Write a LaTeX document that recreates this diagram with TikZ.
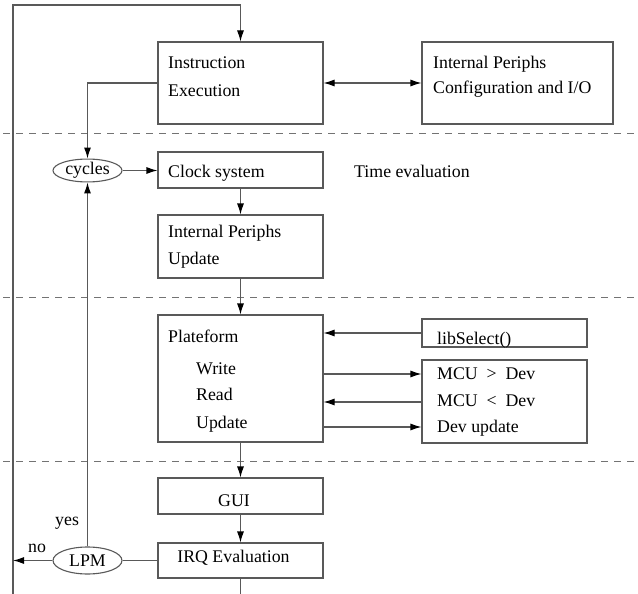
\documentclass[tikz,border=0pt]{standalone}
\usepackage{fontspec}
\setmainfont{Liberation Serif}
\usetikzlibrary{arrows.meta,shapes.geometric}
\begin{document}
\begin{tikzpicture}[x=1pt,y=-1pt,
  every node/.style={font=\fontsize{17.8}{20}\selectfont},
  block/.style={draw=black!65,line width=1.1pt,rectangle,inner sep=0pt},
  oval/.style={draw=black!65,line width=1.1pt,ellipse,inner sep=0pt,minimum width=69pt},
  txt/.style={anchor=base west,inner sep=0pt},
  ctxt/.style={anchor=base,inner sep=0pt},
  link/.style={draw=black!65,line width=1.1pt},
  tip/.style={Latex[length=11pt,width=7pt,color=black]},
  arr/.style={link,-{Latex[length=11pt,width=7pt,color=black]}},
  darr/.style={link,{Latex[length=11pt,width=7pt,color=black]}-{Latex[length=11pt,width=7pt,color=black]}},
  sep/.style={draw=black!55,line width=0.9pt,dash pattern=on 7pt off 6pt}]
\useasboundingbox (0,0) rectangle (638,594);

% section separators
\draw[sep] (3,133) -- (638,133);
\draw[sep] (3,297) -- (638,297);
\draw[sep] (3,461) -- (638,461);

% blocks
\node[block,minimum width=165pt,minimum height=82pt]  (instr)  at (240.5,83) {};
\node[block,minimum width=191pt,minimum height=82pt]  (periph) at (517.5,83) {};
\node[block,minimum width=165pt,minimum height=36pt]  (clock)  at (240.5,170) {};
\node[block,minimum width=165pt,minimum height=63pt]  (ipu)    at (240.5,246.5) {};
\node[block,minimum width=165pt,minimum height=127pt] (plat)   at (240.5,378.5) {};
\node[block,minimum width=165pt,minimum height=28pt]  (lib)    at (504.5,333) {};
\node[block,minimum width=165pt,minimum height=83pt]  (mcu)    at (504.5,401.5) {};
\node[block,minimum width=165pt,minimum height=36pt]  (gui)    at (240.5,496) {};
\node[block,minimum width=165pt,minimum height=35pt]  (irq)    at (240.5,560.5) {};
\node[oval,minimum height=21pt] (cycles) at (87.5,170.5) {cycles};
\node[oval,minimum height=27pt] (lpm)    at (87.5,560.5) {LPM};

% block texts
\node[txt] (t1)  at (168,69)    {Instruction};
\node[txt] (t2)  at (168,96.5)  {Execution};
\node[txt] (t3)  at (433,69)    {Internal Periphs};
\node[txt] (t4)  at (433,94)    {Configuration and I/O};
\node[txt] (t5)  at (168,177.5) {Clock system};
\node[txt] (t6)  at (354,177)   {Time evaluation};
\node[txt] (t7)  at (168,237)   {Internal Periphs};
\node[txt] (t8)  at (168,264)   {Update};
\node[txt] (t9)  at (168,342.5) {Plateform};
\node[txt] (t10) at (196,374)   {Write};
\node[txt] (t11) at (196,400.5) {Read};
\node[txt] (t12) at (196,428)   {Update};
\node[txt] (t13) at (437,344)   {libSelect()};
\node[txt] (t14) at (437,379.5) {MCU\ \ >\ \ Dev};
\node[txt] (t15) at (437,406.5) {MCU\ \ <\ \ Dev};
\node[txt] (t16) at (437,432.5) {Dev update};
\node[ctxt] (t17) at (234,506)  {GUI};
\node[ctxt] (t18) at (233.5,562.5) {IRQ Evaluation};
\node[txt] (yes) at (55,525) {yes};
\node[txt] (no)  at (28,552) {no};

% helper coordinates
\coordinate (loopB) at (13,594);
\coordinate (loopT) at (13,5);
\coordinate (r1) at (0,374);
\coordinate (r2) at (0,402);
\coordinate (r3) at (0,427);

% connectors
\draw[arr] (loopB) |- (instr.north |- loopT) -- (instr.north);
\draw[arr] (instr.west) -| (cycles.north);
\draw[darr] (instr.east) -- (periph.west);
\draw[arr] (cycles.east) -- (clock.west |- cycles.east);
\draw[arr] (clock.south) -- (ipu.north);
\draw[arr] (ipu.south) -- (plat.north);
\draw[arr] (lib.west) -- (plat.east |- lib.west);
\draw[arr] (plat.east |- r1) -- (mcu.west |- r1);
\draw[arr] (mcu.west |- r2) -- (plat.east |- r2);
\draw[arr] (plat.east |- r3) -- (mcu.west |- r3);
\draw[arr] (plat.south) -- (gui.north);
\draw[arr] (gui.south) -- (irq.north);
\draw[link] (irq.west) -- (lpm.east);
\draw[arr] (lpm.north) -- (cycles.south);
\draw[arr] (lpm.west) -- (lpm.west -| loopB);
\draw[link] (irq.south) -- (irq.south |- loopB);
\end{tikzpicture}
\end{document}
